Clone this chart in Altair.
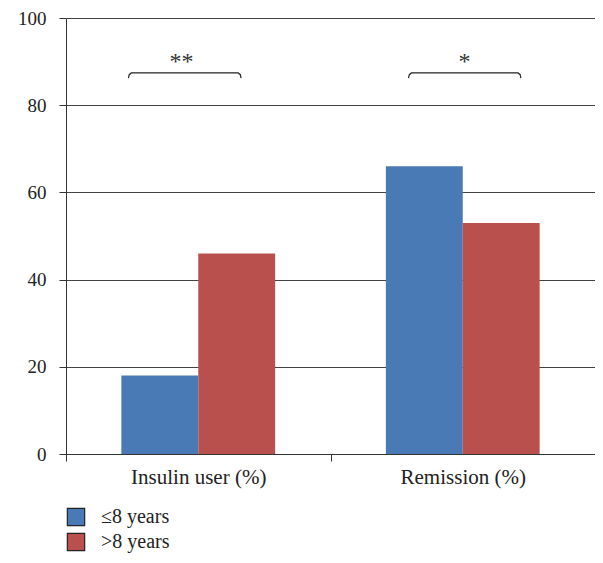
import altair as alt
import pandas as pd

# ---- data ----
categories = ["Insulin user (%)", "Remission (%)"]
groups = ["≤8 years", ">8 years"]
le8_values = [18, 66]
gt8_values = [46, 53]
colors = ["#4A7AB5", "#B9504D"]
y_ticks = [0, 20, 40, 60, 80, 100]

# significance brackets (x as fraction of the category band, y in axis units)
sig_labels = ["**", "*"]
bracket_start = [0.236, 0.295]
bracket_end = [0.662, 0.72]
star_pos = [0.437, 0.507]
bracket_level = 87.4
hook_level = 86.2
label_level = 90.0

FONT = "Liberation Serif"

rows = []
for i, c in enumerate(categories):
    rows.append({"category": c, "group": groups[0], "value": le8_values[i]})
    rows.append({"category": c, "group": groups[1], "value": gt8_values[i]})
df = pd.DataFrame(rows)

brows = []
trows = []
for i, c in enumerate(categories):
    x0, x1 = bracket_start[i], bracket_end[i]
    pts = [(x0, hook_level), (x0 + 0.003, bracket_level - 0.4), (x0 + 0.011, bracket_level),
           (x1 - 0.011, bracket_level), (x1 - 0.003, bracket_level - 0.4), (x1, hook_level)]
    for k, (xx, yy) in enumerate(pts):
        brows.append({"category": c, "xo": xx, "y": yy, "ord": k})
    trows.append({"category": c, "xo": star_pos[i], "y": label_level, "label": sig_labels[i]})
bdf = pd.DataFrame(brows)
tdf = pd.DataFrame(trows)

xscale = alt.Scale(domain=categories, paddingInner=0, paddingOuter=0)
yscale = alt.Scale(domain=[0, 100])

bars = alt.Chart(df).mark_bar().encode(
    x=alt.X("category:N", sort=categories, scale=xscale,
            axis=alt.Axis(title=None, labelAngle=0, tickBand="extent", tickSize=7,
                          labelPadding=5, domainColor="#333", tickColor="#333",
                          labelFont=FONT, labelFontSize=21, labelColor="#222")),
    xOffset=alt.XOffset("group:N", sort=groups,
                        scale=alt.Scale(domain=groups, paddingInner=0, paddingOuter=0.72)),
    y=alt.Y("value:Q", scale=yscale,
            axis=alt.Axis(title=None, values=y_ticks, grid=True, gridColor="#444",
                          gridWidth=1, tickSize=7, tickColor="#333", domainColor="#333",
                          labelPadding=13, labelFont=FONT, labelFontSize=19,
                          labelColor="#222")),
    color=alt.Color("group:N", sort=groups, scale=alt.Scale(domain=groups, range=colors),
                    legend=alt.Legend(title=None, orient="none", legendX=0, legendY=489,
                                      symbolType="square", symbolSize=300,
                                      symbolStrokeColor="#222", symbolStrokeWidth=1.2,
                                      labelFont=FONT, labelFontSize=20, labelColor="#222",
                                      labelOffset=15, rowPadding=1, padding=0)),
)

brackets = alt.Chart(bdf).mark_line(color="#222", strokeWidth=1.2).encode(
    x=alt.X("category:N", sort=categories, scale=xscale),
    xOffset=alt.XOffset("xo:Q", scale=alt.Scale(domain=[0, 1])),
    y=alt.Y("y:Q", scale=yscale),
    detail="category:N",
    order="ord:Q",
)

stars = alt.Chart(tdf).mark_text(font=FONT, fontSize=24, color="#333", baseline="middle").encode(
    x=alt.X("category:N", sort=categories, scale=xscale),
    xOffset=alt.XOffset("xo:Q", scale=alt.Scale(domain=[0, 1])),
    y=alt.Y("y:Q", scale=yscale),
    text="label:N",
)

chart = alt.layer(bars, brackets, stars).resolve_scale(xOffset="independent").properties(
    width=529, height=436, autosize="none",
    padding={"left": 58, "top": 10, "right": 0, "bottom": 101},
).configure_view(stroke=None)

chart.save("out.html", embed_options={"renderer": "svg", "actions": False})
